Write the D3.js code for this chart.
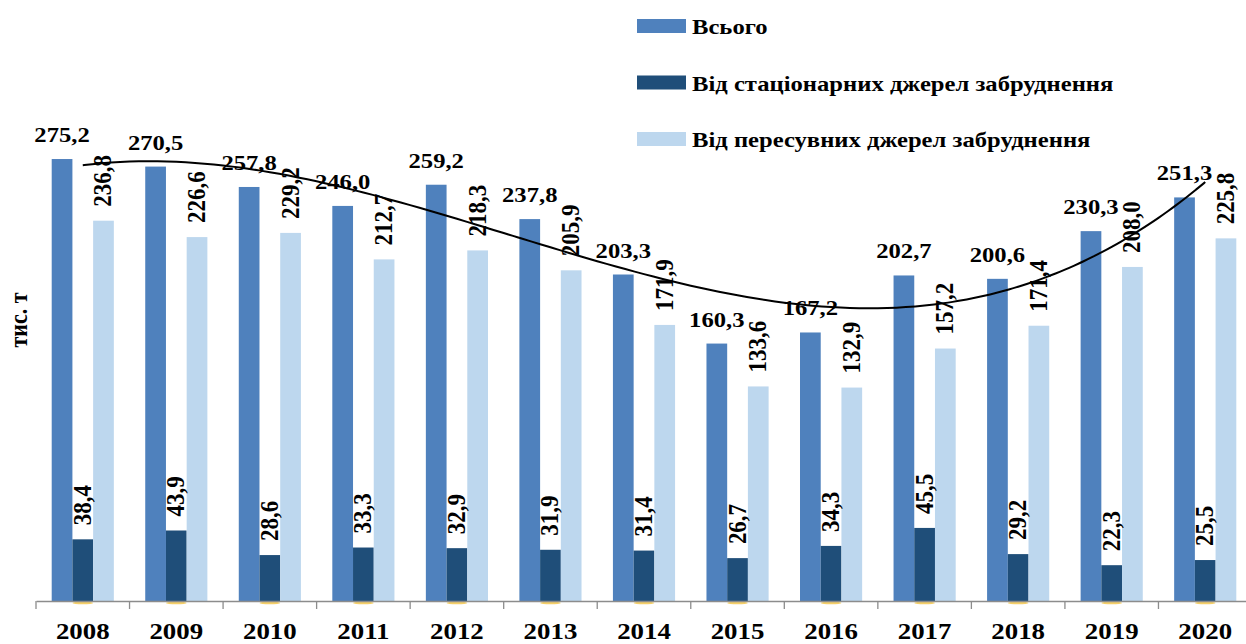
<!DOCTYPE html>
<html>
<head>
<meta charset="utf-8">
<script src="https://cdn.jsdelivr.net/npm/d3@7"></script>
<style>
  body { margin: 0; background: #fff; }
  svg { display: block; }
  text { font-family: "Liberation Serif", "Times New Roman", serif; font-weight: bold; fill: #000; }
</style>
</head>
<body>
<svg id="chart" width="1246" height="644"></svg>
<script>
// Chart data
const years = ['2008', '2009', '2010', '2011', '2012', '2013', '2014', '2015', '2016', '2017', '2018', '2019', '2020'];
const totalValues = [275.2, 270.5, 257.8, 246.0, 259.2, 237.8, 203.3, 160.3, 167.2, 202.7, 200.6, 230.3, 251.3];
const stationaryValues = [38.4, 43.9, 28.6, 33.3, 32.9, 31.9, 31.4, 26.7, 34.3, 45.5, 29.2, 22.3, 25.5];
const mobileValues = [236.8, 226.6, 229.2, 212.7, 218.3, 205.9, 171.9, 133.6, 132.9, 157.2, 171.4, 208.0, 225.8];
const seriesNames = ['Всього', 'Від стаціонарних джерел забруднення', 'Від пересувних джерел забруднення'];
const seriesKeys = ['total', 'stationary', 'mobile'];
const yAxisLabel = 'тис. т';

const colors = { total: '#4F81BD', stationary: '#1F4E79', mobile: '#BDD7EE' };
const FONT = '"Liberation Serif", "Times New Roman", serif';
const STRETCH = 1.12; // the reference text is a little wider than the font

const rows = years.map((y, i) => ({
  year: y,
  total: totalValues[i],
  stationary: stationaryValues[i],
  mobile: mobileValues[i]
}));

const svg = d3.select('#chart');
const baseY = 601;

const x = d3.scaleBand()
  .domain(years)
  .range([36, 1252])
  .paddingInner(0)
  .paddingOuter(0);

const xInner = d3.scaleBand()
  .domain(seriesKeys)
  .range([15.7, x.bandwidth() - 15.7]);

const y = d3.scaleLinear()
  .domain([0, 300])
  .range([baseY, baseY - 300 * 1.606]);

const fmt = (v) => d3.format('.1f')(v).replace('.', ',');

// Bars
const groups = svg.append('g').attr('class', 'groups')
  .selectAll('g')
  .data(rows)
  .enter()
  .append('g')
    .attr('transform', (d) => `translate(${ x(d.year) },0)`);

groups.selectAll('rect')
  .data((d) => seriesKeys.map((k) => ({ key: k, value: d[k] })))
  .enter()
  .append('rect')
    .attr('x', (d) => xInner(d.key))
    .attr('y', (d) => y(d.value))
    .attr('width', xInner.bandwidth())
    .attr('height', (d) => y(0) - y(d.value))
    .attr('fill', (d) => colors[d.key]);

// small gold marks under the stationary bars
groups.append('ellipse')
  .attr('cx', xInner('stationary') + xInner.bandwidth() / 2)
  .attr('cy', baseY + 2)
  .attr('rx', xInner.bandwidth() / 2)
  .attr('ry', 1.3)
  .attr('fill', '#F2C342')
  .attr('opacity', 0.8);

// Axis
const xAxis = d3.axisBottom(x).tickSize(0).tickSizeOuter(0).tickFormat('');
const axisG = svg.append('g')
  .attr('transform', `translate(0,${ baseY })`)
  .call(xAxis);
axisG.select('.domain').attr('stroke', '#8C8C8C').attr('stroke-width', 1.3);

// Year labels
svg.append('g').selectAll('text')
  .data(years)
  .enter()
  .append('text')
    .attr('transform', (d) => `translate(${ x(d) + x.bandwidth() / 2 },${ baseY + 38 }) scale(${ STRETCH },1)`)
    .attr('text-anchor', 'middle')
    .attr('font-family', FONT)
    .attr('font-size', 24)
    .text((d) => d);

// Boundary tick marks between categories
svg.append('g').selectAll('line')
  .data(years)
  .enter()
  .append('line')
    .attr('x1', (d) => x(d))
    .attr('x2', (d) => x(d))
    .attr('y1', baseY)
    .attr('y2', baseY + 8)
    .attr('stroke', '#8C8C8C')
    .attr('stroke-width', 1.3);

// Labels for totals (horizontal)
groups.append('text')
  .attr('transform', (d) => `translate(${ xInner('total') + xInner.bandwidth() / 2 },${ y(d.total) - 17 }) scale(${ STRETCH },1)`)
  .attr('text-anchor', 'middle')
  .attr('font-family', FONT)
  .attr('font-size', 22)
  .text((d) => fmt(d.total));

// Rotated labels for stationary and mobile
['stationary', 'mobile'].forEach((k) => {
  groups.append('text')
    .attr('transform', (d) => {
      const cx = xInner(k) + xInner.bandwidth() / 2 + 8;
      const cy = y(d[k]) - 14;
      return `translate(${ cx },${ cy }) scale(${ STRETCH },1) rotate(-90)`;
    })
    .attr('text-anchor', 'start')
    .attr('font-family', FONT)
    .attr('font-size', 23)
    .text((d) => fmt(d[k]));
});

// Polynomial trend line (least squares, order 3) on the totals
function polyFit(xs, ys, order) {
  const n = order + 1;
  const A = Array.from({ length: n }, () => new Array(n + 1).fill(0));
  for (let r = 0; r < n; r++) {
    for (let c = 0; c < n; c++) {
      A[r][c] = d3.sum(xs, (xv) => Math.pow(xv, r + c));
    }
    A[r][n] = d3.sum(xs, (xv, i) => ys[i] * Math.pow(xv, r));
  }
  for (let i = 0; i < n; i++) {
    let p = i;
    for (let j = i + 1; j < n; j++) if (Math.abs(A[j][i]) > Math.abs(A[p][i])) p = j;
    [A[i], A[p]] = [A[p], A[i]];
    for (let j = i + 1; j < n; j++) {
      const f = A[j][i] / A[i][i];
      for (let c = i; c <= n; c++) A[j][c] -= f * A[i][c];
    }
  }
  const coef = new Array(n).fill(0);
  for (let i = n - 1; i >= 0; i--) {
    let s = A[i][n];
    for (let c = i + 1; c < n; c++) s -= A[i][c] * coef[c];
    coef[i] = s / A[i][i];
  }
  return (xv) => coef.reduce((acc, cf, i) => acc + cf * Math.pow(xv, i), 0);
}

const idx = years.map((d, i) => i + 1);
const trend = polyFit(idx, totalValues, 3);
const trendPts = d3.range(1, 13.001, 0.1).map((t) => [t, trend(t)]);
const tx = d3.scaleLinear().domain([1, 13])
  .range([x(years[0]) + x.bandwidth() / 2, x(years[12]) + x.bandwidth() / 2]);

svg.append('path')
  .datum(trendPts)
  .attr('fill', 'none')
  .attr('stroke', '#000')
  .attr('stroke-width', 2)
  .attr('d', d3.line().x((d) => tx(d[0])).y((d) => y(d[1])).curve(d3.curveBasis));

// Y axis title
svg.append('text')
  .attr('transform', `translate(27,320) scale(${ STRETCH },1) rotate(-90)`)
  .attr('text-anchor', 'middle')
  .attr('font-family', FONT)
  .attr('font-size', 22)
  .text(yAxisLabel);

// Legend
const legend = svg.append('g').attr('transform', 'translate(637,19)');
const legendItems = legend.selectAll('g')
  .data(seriesKeys)
  .enter()
  .append('g')
    .attr('transform', (d, i) => `translate(0,${ i * 56.5 })`);
legendItems.append('rect')
  .attr('width', 49)
  .attr('height', 14)
  .attr('fill', (d) => colors[d]);
legendItems.append('text')
  .attr('transform', `translate(55,15) scale(${ STRETCH },1)`)
  .attr('font-family', FONT)
  .attr('font-size', 22)
  .text((d, i) => seriesNames[i]);
</script>
</body>
</html>
